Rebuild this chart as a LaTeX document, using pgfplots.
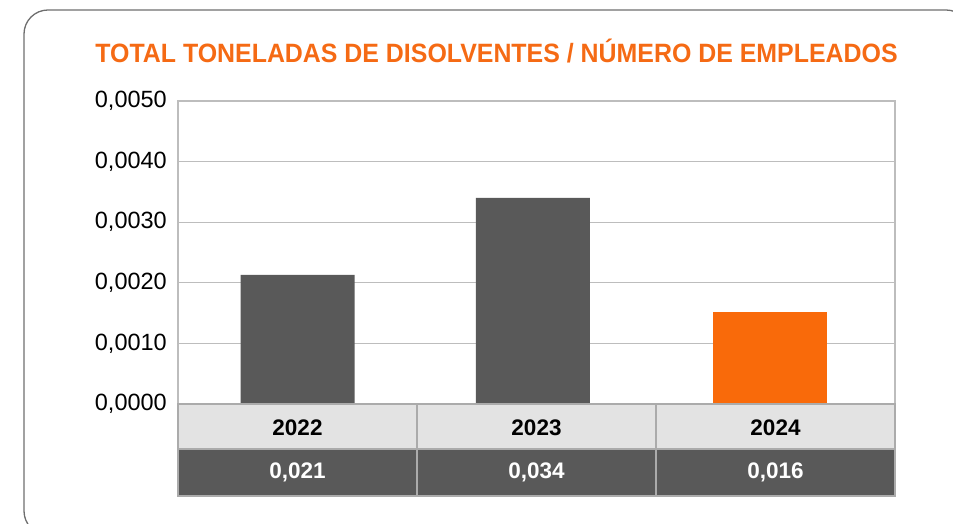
\documentclass[border=0pt]{standalone}
\usepackage{pgfplots}
\pgfplotsset{compat=1.18}
\usepackage{fontspec}
\setmainfont{Liberation Sans}
\definecolor{darkbar}{HTML}{595959}
\definecolor{orangebar}{HTML}{F96A0A}
\definecolor{titleorange}{HTML}{F56A14}
\definecolor{gridgray}{HTML}{BDBDBD}
\definecolor{rowlight}{HTML}{E3E3E3}
\definecolor{tabborder}{HTML}{ABABAB}
\definecolor{framegray}{HTML}{6E6E6E}
\begin{document}
\begin{tikzpicture}[x=1bp,y=1bp]
\path[use as bounding box] (0,0) rectangle (953,524);
\draw[framegray, line width=1.3bp, rounded corners=24bp] (24,-11) rectangle (970,514);
\node[text=titleorange, inner sep=0pt] at (496.5,472.5) {\scalebox{0.94}[1]{\fontsize{26.5bp}{30bp}\selectfont\bfseries TOTAL TONELADAS DE DISOLVENTES / NÚMERO DE EMPLEADOS}};
\begin{axis}[
  at={(178bp,120bp)}, anchor=south west,
  scale only axis, width=717bp, height=303bp,
  xmin=-0.5, xmax=2.5, ymin=0, ymax=0.005,
  xtick=\empty,
  ytick={0,0.001,0.002,0.003,0.004,0.005},
  scaled y ticks=false,
  ymajorgrids,
  grid style={gridgray, line width=1.2bp},
  axis line style={gridgray, line width=1.2bp},
  major tick length=0pt,
  clip=false,
  yticklabel style={font=\fontsize{23.5bp}{28bp}\selectfont, inner sep=0pt, xshift=-11bp,
    /pgf/number format/.cd, fixed, fixed zerofill, precision=4, use comma, assume math mode=true},
]
\addplot[ybar, bar shift=0pt, bar width=0.477, fill=darkbar, draw=none] coordinates {(0,0.00213) (0.985,0.00340)};
\addplot[ybar, bar shift=0pt, bar width=0.477, fill=orangebar, draw=none] coordinates {(1.975,0.00151)};
% data table below the axis
\draw[fill=rowlight, draw=tabborder, line width=1.3bp] (axis cs:-0.5,0) rectangle (axis cs:0.5,-0.000743);
\draw[fill=rowlight, draw=tabborder, line width=1.3bp] (axis cs:0.5,0) rectangle (axis cs:1.5,-0.000743);
\draw[fill=rowlight, draw=tabborder, line width=1.3bp] (axis cs:1.5,0) rectangle (axis cs:2.5,-0.000743);
\draw[fill=darkbar, draw=tabborder, line width=1.3bp] (axis cs:-0.5,-0.000743) rectangle (axis cs:0.5,-0.001518);
\draw[fill=darkbar, draw=tabborder, line width=1.3bp] (axis cs:0.5,-0.000743) rectangle (axis cs:1.5,-0.001518);
\draw[fill=darkbar, draw=tabborder, line width=1.3bp] (axis cs:1.5,-0.000743) rectangle (axis cs:2.5,-0.001518);
\node[font=\fontsize{22.5bp}{27bp}\selectfont\bfseries] at (axis cs:0,-0.000385) {2022};
\node[font=\fontsize{22.5bp}{27bp}\selectfont\bfseries] at (axis cs:1,-0.000385) {2023};
\node[font=\fontsize{22.5bp}{27bp}\selectfont\bfseries] at (axis cs:2,-0.000385) {2024};
\node[font=\fontsize{22.5bp}{27bp}\selectfont\bfseries, text=white] at (axis cs:0,-0.00113) {0,021};
\node[font=\fontsize{22.5bp}{27bp}\selectfont\bfseries, text=white] at (axis cs:1,-0.00113) {0,034};
\node[font=\fontsize{22.5bp}{27bp}\selectfont\bfseries, text=white] at (axis cs:2,-0.00113) {0,016};
\end{axis}
\end{tikzpicture}
\end{document}
